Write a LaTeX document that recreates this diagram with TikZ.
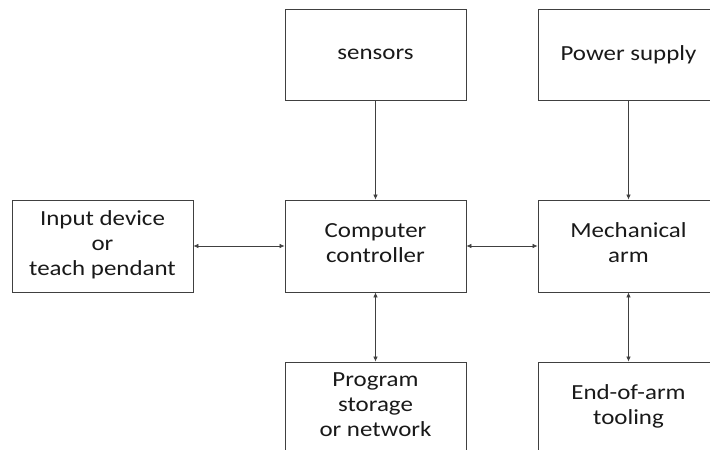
\documentclass[tikz,border=0pt]{standalone}
\usepackage{fontspec}
\setmainfont{Carlito}[FakeStretch=1.16]
\usetikzlibrary{arrows.meta}
\newcommand{\lowstrut}{\rule[-6.5pt]{0pt}{0pt}}
\begin{document}
\begin{tikzpicture}[x=1pt,y=-1pt,
  blk/.style={draw=black!75,line width=0.8pt,minimum width=181pt,minimum height=92pt,inner sep=0pt,align=center,font=\fontsize{21.5}{25}\selectfont,text=black!90},
  conn/.style={draw=black!75,line width=0.7pt,-{Latex[length=5pt,width=4.5pt]}},
  dconn/.style={draw=black!75,line width=0.7pt,{Latex[length=5pt,width=4.5pt]}-{Latex[length=5pt,width=4.5pt]}}]
\useasboundingbox (0,0) rectangle (710,450);
\clip (0,0) rectangle (710,450);
\node[blk] (input) at (102.5,246) {Input device\\or\\teach pendant\lowstrut};
\node[blk] (comp) at (375.5,246) {Computer\\controller\lowstrut};
\node[blk] (mech) at (628.5,246) {Mechanical\\arm\lowstrut};
\node[blk,minimum height=91pt] (sens) at (375.5,54.5) {sensors};
\node[blk,minimum height=91pt] (power) at (628.5,54.5) {Power supply};
\node[blk] (prog) at (375.5,408) {Program\\storage\\or network\lowstrut};
\node[blk] (eoa) at (628.5,408) {End-of-arm\\tooling\lowstrut};
\draw[conn] (sens) -- (comp);
\draw[conn] (power) -- (mech);
\draw[dconn] (input) -- (comp);
\draw[dconn] (comp) -- (mech);
\draw[dconn] (comp) -- (prog);
\draw[dconn] (mech) -- (eoa);
\end{tikzpicture}
\end{document}
